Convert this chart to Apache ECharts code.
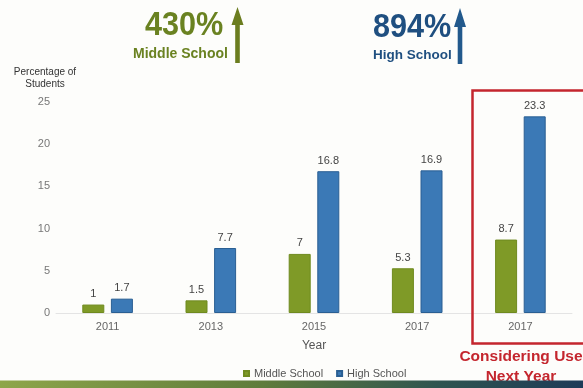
<!DOCTYPE html>
<html>
<head>
<meta charset="utf-8">
<script src="https://cdn.jsdelivr.net/npm/echarts@6/dist/echarts.min.js"></script>
<style>
  html, body { margin: 0; padding: 0; background: #fdfdfb; }
  #chart { width: 583px; height: 388px; }
</style>
</head>
<body>
<div id="chart"></div>
<script>
// Survey years (the last column is next year's planned use)
const years = ['2011', '2013', '2015', '2017', '2017'];
// Percentage of students using the tool
const middleSchool = [1, 1.5, 7, 5.3, 8.7];
const highSchool = [1.7, 7.7, 16.8, 16.9, 23.3];
const yTicks = [0, 5, 10, 15, 20, 25];

const GREEN = '#7f9a27';
const BLUE = '#3b79b6';
const FONT = '"Liberation Sans", Arial, sans-serif';

const chart = echarts.init(document.getElementById('chart'), null, { renderer: 'canvas' });

const valueLabel = {
  show: true,
  position: 'top',
  distance: 5,
  fontFamily: FONT,
  fontSize: 11,
  color: '#444'
};

chart.setOption({
  backgroundColor: '#fdfdfb',
  animation: false,
  textStyle: { fontFamily: FONT },
  grid: { left: 56, right: 11, top: 102, height: 211, containLabel: false },
  legend: {
    data: ['Middle School', 'High School'],
    left: 238,
    top: 363,
    icon: 'rect',
    itemWidth: 5,
    itemHeight: 5,
    itemGap: 13,
    textStyle: { fontFamily: FONT, fontSize: 11, color: '#555' }
  },
  xAxis: {
    type: 'category',
    data: years,
    name: 'Year',
    nameLocation: 'middle',
    nameGap: 27,
    nameTextStyle: { fontFamily: FONT, fontSize: 12, color: '#555' },
    axisLine: { show: true, lineStyle: { color: '#e4e4e4', width: 1 } },
    axisTick: { show: false },
    axisLabel: { fontFamily: FONT, fontSize: 11, color: '#666', margin: 8 }
  },
  yAxis: {
    type: 'value',
    min: yTicks[0],
    max: yTicks[yTicks.length - 1],
    interval: yTicks[1] - yTicks[0],
    axisLine: { show: false },
    axisTick: { show: false },
    splitLine: { show: false },
    axisLabel: { fontFamily: FONT, fontSize: 11, color: '#777', margin: 6 }
  },
  series: [
    {
      name: 'Middle School',
      type: 'bar',
      data: middleSchool,
      barWidth: 22,
      barGap: '30%',
      itemStyle: { color: GREEN, borderColor: '#6f8a1f', borderWidth: 1 },
      label: valueLabel
    },
    {
      name: 'High School',
      type: 'bar',
      data: highSchool,
      barWidth: 22,
      barGap: '30%',
      itemStyle: { color: BLUE, borderColor: '#2a5f93', borderWidth: 1 },
      label: valueLabel
    }
  ],
  graphic: [
    // axis title
    {
      type: 'text', x: 45, y: 66, z: 10,
      style: {
        text: 'Percentage of\nStudents', fontFamily: FONT, fontSize: 10,
        fill: '#333', align: 'center', lineHeight: 12
      }
    },
    // middle school headline
    {
      type: 'text', x: 145, y: 9, scaleX: 0.9, z: 10,
      style: { text: '430%', fontFamily: FONT, fontSize: 34, fontWeight: 'bold', fill: '#6a8221' }
    },
    {
      type: 'text', x: 133, y: 47, z: 10,
      style: { text: 'Middle School', fontFamily: FONT, fontSize: 14, fontWeight: 'bold', fill: '#6a8221' }
    },
    {
      type: 'polygon', z: 10,
      shape: { points: [[237.5, 7], [243.5, 25], [239.8, 25], [239.8, 63], [235.2, 63], [235.2, 25], [231.5, 25]] },
      style: { fill: '#6b7d1f' }
    },
    // high school headline
    {
      type: 'text', x: 373, y: 11, scaleX: 0.9, z: 10,
      style: { text: '894%', fontFamily: FONT, fontSize: 34, fontWeight: 'bold', fill: '#1f4f80' }
    },
    {
      type: 'text', x: 373, y: 48, z: 10,
      style: { text: 'High School', fontFamily: FONT, fontSize: 13.5, fontWeight: 'bold', fill: '#1f4f80' }
    },
    {
      type: 'polygon', z: 10,
      shape: { points: [[460, 8], [466, 27], [462.3, 27], [462.3, 64], [457.7, 64], [457.7, 27], [454, 27]] },
      style: { fill: '#22598c' }
    },
    // next-year highlight box
    {
      type: 'rect', z: 10,
      shape: { x: 472.5, y: 90.5, width: 120, height: 253 },
      style: { fill: 'none', stroke: '#c4262e', lineWidth: 2.5 }
    },
    {
      type: 'text', z: 10,
      style: {
        text: 'Considering Use\nNext Year', x: 521, y: 347, align: 'center',
        fontFamily: FONT, fontSize: 15.5, fontWeight: 'bold', fill: '#c4262e', lineHeight: 20
      }
    },
    // footer band
    {
      type: 'rect', z: 10,
      shape: { x: 0, y: 380.5, width: 583, height: 8 },
      style: {
        fill: new echarts.graphic.LinearGradient(0, 0, 1, 0, [
          { offset: 0, color: '#8ea64a' },
          { offset: 0.45, color: '#5f7c3c' },
          { offset: 0.75, color: '#2f5550' },
          { offset: 1, color: '#1d3b58' }
        ])
      }
    }
  ]
});
</script>
</body>
</html>
